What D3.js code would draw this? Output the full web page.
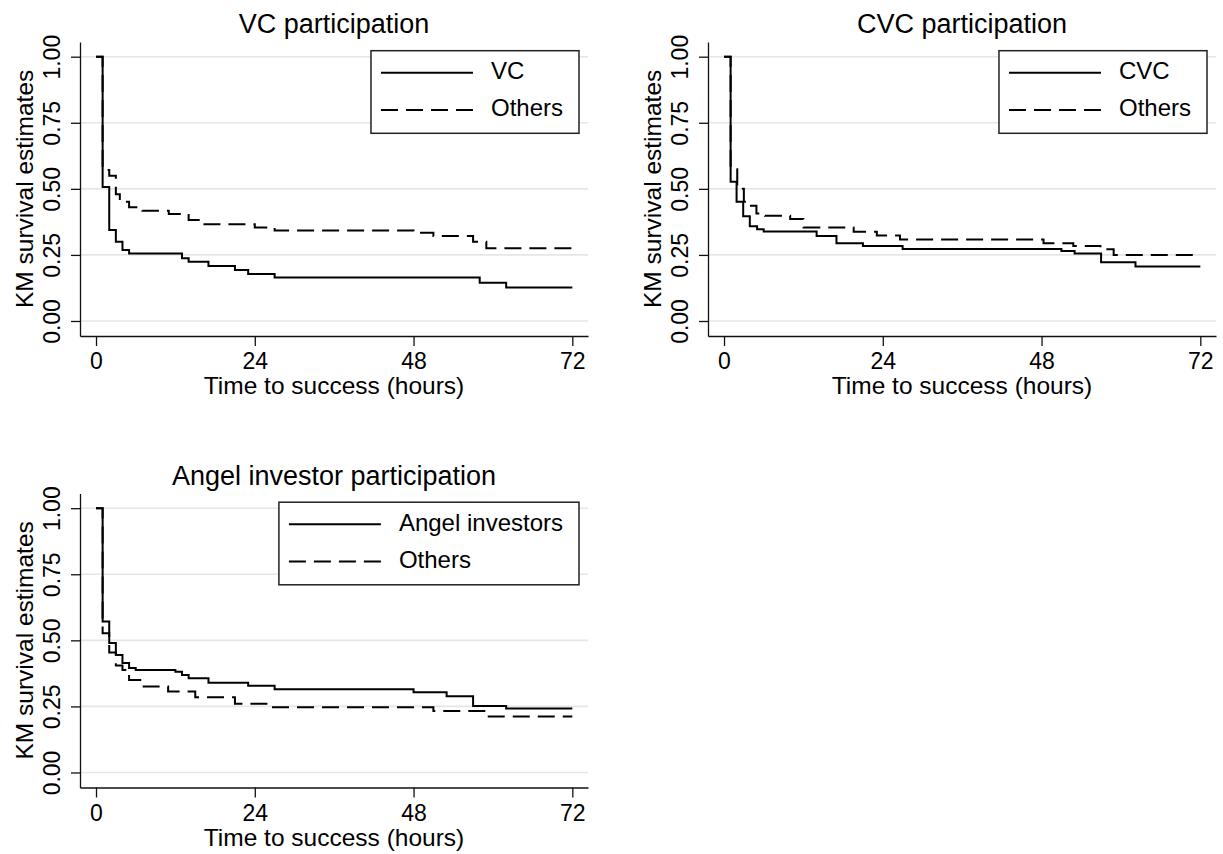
<!DOCTYPE html>
<html>
<head>
<meta charset="utf-8">
<script src="https://cdn.jsdelivr.net/npm/d3@7"></script>
<style>
  body { margin: 0; background: #fff; }
  text { font-family: "Liberation Sans", Arial, sans-serif; fill: #000; }
</style>
</head>
<body>
<div id="chart-area"></div>
<script>
// KM survival step values (time in hours, survival after each event)
var vcTimes = [1, 2, 3, 4, 5, 13, 14, 17, 21, 23, 27, 58, 62];
var vcSurv = [0.507, 0.344, 0.30, 0.269, 0.255, 0.237, 0.224, 0.208, 0.193, 0.178, 0.165, 0.145, 0.127];
var vcOthersTimes = [1, 2, 3, 3.6, 5, 7, 11, 14, 16, 24, 27, 48, 51, 57, 59];
var vcOthersSurv = [0.571, 0.55, 0.48, 0.451, 0.43, 0.417, 0.405, 0.382, 0.366, 0.354, 0.342, 0.334, 0.322, 0.30, 0.275];

var cvcTimes = [1, 1.9, 2.9, 3.9, 5, 6, 14, 17, 21, 27, 51, 53, 57, 62.2];
var cvcSurv = [0.527, 0.451, 0.396, 0.358, 0.347, 0.339, 0.322, 0.294, 0.284, 0.272, 0.265, 0.255, 0.222, 0.206];
var cvcOthersTimes = [1, 2, 3, 3.9, 4.9, 6.2, 10, 12, 19.6, 23.1, 26.6, 48.3, 52.8, 56.9, 58.9];
var cvcOthersSurv = [0.574, 0.50, 0.451, 0.436, 0.407, 0.398, 0.386, 0.354, 0.338, 0.323, 0.308, 0.294, 0.284, 0.271, 0.25];

var angelTimes = [1, 2, 3, 4, 5, 6, 12, 13, 14, 17, 23, 27, 48, 53, 57, 62];
var angelSurv = [0.571, 0.49, 0.445, 0.414, 0.395, 0.388, 0.381, 0.369, 0.357, 0.34, 0.328, 0.315, 0.304, 0.288, 0.252, 0.242];
var angelOthersTimes = [1, 2, 3, 4, 5, 7.2, 10.9, 15, 21, 26, 51, 59];
var angelOthersSurv = [0.527, 0.454, 0.405, 0.388, 0.35, 0.325, 0.306, 0.285, 0.26, 0.247, 0.233, 0.212];

var titles = ["VC participation", "CVC participation", "Angel investor participation"];
var groupLabels = ["VC", "CVC", "Angel investors"];
var othersLabel = "Others";
var xTicks = [0, 24, 48, 72];
var yTicks = [0, 0.25, 0.5, 0.75, 1];
var maxTime = 72;

var width = 508, height = 294;
var svg = d3.select("#chart-area").append("svg")
  .attr("width", 1223).attr("height", 854);

var origins = [[80, 42], [708, 42], [80, 493.5]];
var panels = [
  {main: [vcTimes, vcSurv], others: [vcOthersTimes, vcOthersSurv]},
  {main: [cvcTimes, cvcSurv], others: [cvcOthersTimes, cvcOthersSurv]},
  {main: [angelTimes, angelSurv], others: [angelOthersTimes, angelOthersSurv]}
];

var x = d3.scaleLinear().domain([-2.42, 74.37]).range([0, width]);
var y = d3.scaleLinear().domain([-0.0568, 1.0556]).range([height, 0]);

function stepPoints(times, surv) {
  var pts = [[0, 1]];
  times.forEach(function(t, i) { pts.push([t, surv[i]]); });
  pts.push([maxTime, surv[surv.length - 1]]);
  return pts;
}

var line = d3.line()
  .x(function(d) { return x(d[0]); })
  .y(function(d) { return y(d[1]); })
  .curve(d3.curveStepAfter);

var dash = "17,8";

panels.forEach(function(p, i) {
  var g = svg.append("g")
    .attr("transform", "translate(" + origins[i][0] + "," + origins[i][1] + ")");

  // grid
  g.selectAll(".grid").data(yTicks).enter().append("line")
    .attr("x1", 0).attr("x2", width)
    .attr("y1", function(d) { return y(d); })
    .attr("y2", function(d) { return y(d); })
    .attr("stroke", "#e6e6e6").attr("stroke-width", 1.6);

  // curves
  g.append("path")
    .attr("d", line(stepPoints(p.others[0], p.others[1])))
    .attr("fill", "none").attr("stroke", "#000")
    .attr("stroke-width", 2).attr("stroke-dasharray", dash);
  g.append("path")
    .attr("d", line(stepPoints(p.main[0], p.main[1])))
    .attr("fill", "none").attr("stroke", "#000")
    .attr("stroke-width", 2);

  // axes
  var xAxis = g.append("g")
    .attr("transform", "translate(0," + height + ")")
    .call(d3.axisBottom(x).tickValues(xTicks).tickSize(10).tickSizeOuter(0));
  xAxis.selectAll("text")
    .attr("y", 33).attr("dy", 0)
    .attr("font-size", "23px");

  var yAxis = g.append("g")
    .call(d3.axisLeft(y).tickValues(yTicks).tickSize(9).tickSizeOuter(0).tickFormat(d3.format(".2f")));
  yAxis.selectAll("text")
    .attr("transform", "rotate(-90)")
    .attr("x", 0).attr("y", -20).attr("dy", 0)
    .attr("text-anchor", "middle")
    .attr("font-size", "23px");

  svg.selectAll(".domain, .tick line").attr("stroke", "#111").attr("stroke-width", 1.3);
  svg.selectAll(".tick text").attr("fill", "#000").attr("font-family", null);

  // labels
  g.append("text")
    .attr("x", width / 2).attr("y", -8.7)
    .attr("text-anchor", "middle")
    .attr("font-size", "27px")
    .text(titles[i]);

  g.append("text")
    .attr("x", width / 2).attr("y", 352)
    .attr("text-anchor", "middle")
    .attr("font-size", "24.5px")
    .text("Time to success (hours)");

  g.append("text")
    .attr("transform", "rotate(-90)")
    .attr("x", -y(0.5)).attr("y", -47.5)
    .attr("text-anchor", "middle")
    .attr("font-size", "24.5px")
    .text("KM survival estimates");

  // legend
  var leg = g.append("g");
  var box = leg.append("rect")
    .attr("fill", "#fff").attr("stroke", "#222").attr("stroke-width", 1.5);
  var rows = [[groupLabels[i], null], [othersLabel, dash]];
  var maxW = 0;
  rows.forEach(function(r, k) {
    var ry = 22 + k * 37.3;
    leg.append("line")
      .attr("x1", 10).attr("x2", 102)
      .attr("y1", ry).attr("y2", ry)
      .attr("stroke", "#000").attr("stroke-width", 2)
      .attr("stroke-dasharray", r[1]);
    var t = leg.append("text")
      .attr("x", 120).attr("y", ry + 6.5)
      .attr("font-size", "24px")
      .text(r[0]);
    maxW = Math.max(maxW, t.node().getComputedTextLength());
  });
  var boxW = 120 + maxW + 16;
  box.attr("x", 0).attr("y", 0).attr("width", boxW).attr("height", 82.6);
  leg.attr("transform", "translate(" + (width - 9 - boxW) + ",8.7)");
});
</script>
</body>
</html>
